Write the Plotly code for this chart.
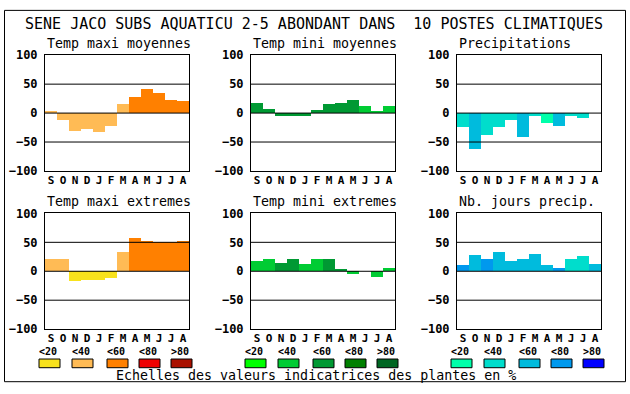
import plotly.graph_objects as go

W, H = 630, 394

months = ["S", "O", "N", "D", "J", "F", "M", "A", "M", "J", "J", "A"]
main_title = "SENE JACO SUBS AQUATICU 2-5 ABONDANT DANS  10 POSTES CLIMATIQUES"
panel_titles = ["Temp maxi moyennes", "Temp mini moyennes", "Precipitations",
                "Temp maxi extremes", "Temp mini extremes", "Nb. jours precip."]
class_labels = ["<20", "<40", "<60", "<80", ">80"]
footer = "Echelles des valeurs indicatrices des plantes en %"

# values (%) and indicator class (0..4) per month
tmax_moy = [3, -13, -31, -28, -33, -23, 15, 27, 42, 35, 23, 20]
tmax_moy_cls = [1, 1, 1, 1, 1, 1, 1, 2, 2, 2, 2, 2]
tmin_moy = [17, 7, -6, -6, -6, 5, 15, 17, 22, 12, 2, 12]
tmin_moy_cls = [2, 2, 2, 2, 2, 2, 2, 2, 2, 1, 1, 1]
precip = [-24, -63, -38, -24, -13, -41, -6, -18, -23, -6, -8, 0]
precip_cls = [1, 2, 1, 1, 1, 2, 1, 0, 2, 1, 1, 1]
tmax_ext = [20, 20, -17, -16, -16, -12, 32, 57, 52, 50, 50, 52]
tmax_ext_cls = [1, 1, 0, 0, 0, 0, 1, 2, 2, 2, 2, 2]
tmin_ext = [17, 20, 14, 20, 12, 20, 20, 4, -6, 0, -11, 5]
tmin_ext_cls = [1, 1, 2, 2, 1, 1, 2, 2, 1, 1, 1, 1]
nb_jours = [10, 27, 20, 32, 17, 20, 30, 10, 5, 20, 25, 12]
nb_jours_cls = [3, 2, 3, 2, 2, 2, 2, 2, 3, 1, 1, 2]

warm_colors = ["#F8E21C", "#FFBB55", "#FF8000", "#EE0000", "#AA1100"]
green_colors = ["#00FF00", "#00CC33", "#009933", "#008000", "#006622"]
blue_colors = ["#00FFAA", "#00DDCC", "#00BBDD", "#0099EE", "#0000FF"]

panels = [
    (tmax_moy, tmax_moy_cls, warm_colors),
    (tmin_moy, tmin_moy_cls, green_colors),
    (precip, precip_cls, blue_colors),
    (tmax_ext, tmax_ext_cls, warm_colors),
    (tmin_ext, tmin_ext_cls, green_colors),
    (nb_jours, nb_jours_cls, blue_colors),
]

# layout geometry (pixels)
col_x = [45, 251, 457]
plot_w = 144
row_y = [50, 214]
plot_h = 120

MONO = "DejaVu Sans Mono"

def px(x):
    return x / W

def py(y):
    return 1 - y / H

fig = go.Figure()
layout = dict(
    width=W, height=H, autosize=False,
    margin=dict(l=0, r=0, t=0, b=0),
    paper_bgcolor="white", plot_bgcolor="white",
    showlegend=False, bargap=0,
)
shapes = []
annotations = []

for i, (vals, cls, pal) in enumerate(panels):
    r, c = divmod(i, 3)
    n = i + 1
    xa = "x" if n == 1 else f"x{n}"
    ya = "y" if n == 1 else f"y{n}"
    fig.add_trace(go.Bar(
        x=list(range(len(months))), y=vals,
        marker=dict(color=[pal[k] for k in cls], line=dict(width=0)),
        width=1.0, xaxis=xa, yaxis=ya, hoverinfo="skip",
    ))
    x0, y0 = col_x[c], row_y[r]
    layout[f"xaxis{n if n > 1 else ''}"] = dict(
        domain=[px(x0), px(x0 + plot_w)], anchor=ya, range=[-0.5, 11.5],
        tickmode="array", tickvals=list(range(12)), ticktext=months,
        showgrid=False, zeroline=False, showline=True, mirror=True,
        linecolor="black", linewidth=1, ticks="", ticklabelstandoff=-1,
        tickfont=dict(family=MONO, size=11, color="black", weight="bold"),
        fixedrange=True,
    )
    layout[f"yaxis{n if n > 1 else ''}"] = dict(
        domain=[py(y0 + plot_h), py(y0)], anchor=xa, range=[-100, 100],
        tickmode="array", tickvals=[-100, -50, 0, 50, 100],
        showgrid=False, zeroline=False, showline=True, mirror=True,
        linecolor="black", linewidth=1, ticks="", ticklabelstandoff=4,
        tickfont=dict(family=MONO, size=12, color="black", weight="bold"),
        fixedrange=True,
    )
    for gv in (-50, 0, 50):
        shapes.append(dict(type="line", xref=f"{xa} domain", yref=ya,
                           x0=0, x1=1, y0=gv, y1=gv, layer="above",
                           line=dict(color="black", width=1)))
    annotations.append(dict(
        text=panel_titles[i], xref="paper", yref="paper",
        x=px(x0), y=py(y0 - 12), xanchor="left", yanchor="middle",
        showarrow=False, font=dict(family=MONO, size=13.3, color="black"),
    ))

# main title
annotations.append(dict(
    text=main_title, xref="paper", yref="paper", x=px(314), y=py(18),
    xanchor="center", yanchor="middle", showarrow=False,
    font=dict(family=MONO, size=15, color="black"),
))

# colour scale legend
group_x = [39, 245, 451]
sw_off = [0, 33, 68, 100, 132]
for g, pal in enumerate([warm_colors, green_colors, blue_colors]):
    for k in range(5):
        sx = group_x[g] + sw_off[k]
        shapes.append(dict(type="rect", xref="paper", yref="paper",
                           x0=px(sx), x1=px(sx + 21), y0=py(374), y1=py(365),
                           fillcolor=pal[k], line=dict(color="black", width=1)))
        annotations.append(dict(
            text=class_labels[k], xref="paper", yref="paper",
            x=px(sx + 9), y=py(357), xanchor="center", yanchor="middle",
            showarrow=False,
            font=dict(family=MONO, size=10, color="black", weight="bold"),
        ))

annotations.append(dict(
    text=footer, xref="paper", yref="paper", x=px(316), y=py(382),
    xanchor="center", yanchor="middle", showarrow=False,
    font=dict(family=MONO, size=13.3, color="black"),
))

# outer frame
shapes.append(dict(type="rect", xref="paper", yref="paper",
                   x0=px(4.5), x1=px(625.5), y0=py(388.5), y1=py(3.5),
                   line=dict(color="black", width=1), fillcolor="rgba(0,0,0,0)"))

layout["shapes"] = shapes
layout["annotations"] = annotations
fig.update_layout(**layout)
fig.write_html(
    "out.html",
    config={"displayModeBar": False},
    post_script="document.body.style.margin='0';document.body.style.overflow='hidden';",
)
